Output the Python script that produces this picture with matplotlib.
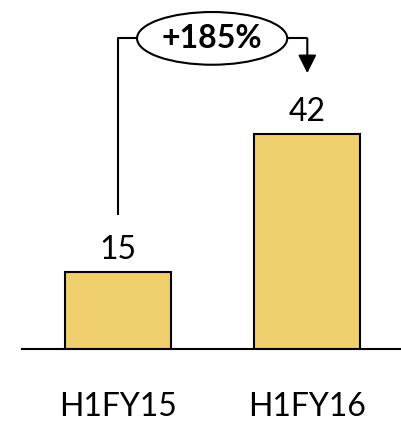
import matplotlib.pyplot as plt
from matplotlib.patches import Ellipse

# Half-year figures
categories = ["H1FY15", "H1FY16"]
values = [15, 42]
growth_label = "+185%"

plt.rcParams['font.family'] = ['Lato', 'DejaVu Sans']

W, H = 401, 421
fig = plt.figure(figsize=(W / 100, H / 100), dpi=100)
ax = fig.add_axes([22 / W, 72 / H, 378 / W, 349 / H])

x = list(range(len(categories)))
ax.bar(x, values, width=0.56, color="#F0CF6E", edgecolor="black", linewidth=1.5)

for xi, v in zip(x, values):
    ax.text(xi, v + 2.5, str(v), ha="center", va="baseline", fontsize=23)

# category names sit well below the baseline
for xi, name in zip(x, categories):
    ax.text(xi, -13.1, name, ha="center", va="baseline", fontsize=23,
            clip_on=False)

ax.set_xlim(-0.508, 1.49)
ax.set_ylim(0, 68.2)
ax.set_xticks([])
ax.set_yticks([])
for side in ["left", "right", "top"]:
    ax.spines[side].set_visible(False)
ax.spines["bottom"].set_linewidth(1.5)

# Growth connector: up from the first bar, across through the ellipse, down to the second
y_line = 60.7
ell_cx, ell_w, ell_h = 0.497, 0.794, 10.3
ax.plot([0, 0, ell_cx - ell_w / 2], [values[0] + 11.2, y_line, y_line],
        color="black", lw=1.5, clip_on=False, solid_capstyle="butt")
ax.plot([ell_cx + ell_w / 2, 1.0], [y_line, y_line],
        color="black", lw=1.5, clip_on=False, solid_capstyle="butt")
ax.annotate("", xy=(1.0, 53.9), xytext=(1.0, y_line),
            arrowprops=dict(arrowstyle="-|>,head_length=1.1,head_width=0.55",
                            color="black", lw=1.5, shrinkA=0, shrinkB=0))
ax.add_patch(Ellipse((ell_cx, y_line), ell_w, ell_h, facecolor="white",
                     edgecolor="black", lw=1.5, clip_on=False))
ax.text(ell_cx, y_line, growth_label, ha="center", va="center",
        fontsize=23, fontweight="bold")

fig.savefig("out.png", dpi=100)
